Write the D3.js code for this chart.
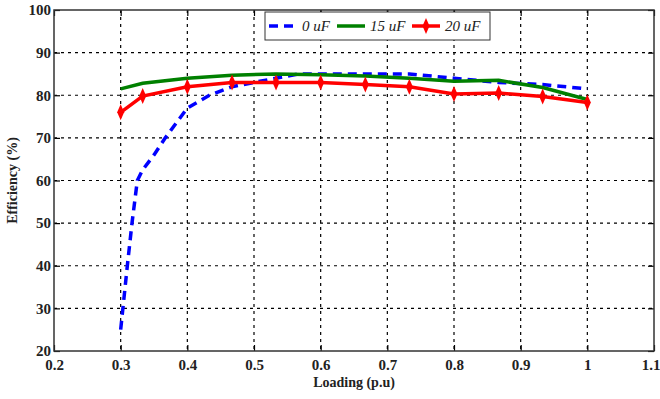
<!DOCTYPE html>
<html>
<head>
<meta charset="utf-8">
<script src="https://cdn.jsdelivr.net/npm/d3@7"></script>
<style>
  body { margin: 0; background: #fff; }
  svg { display: block; }
  .tick-label { font-family: "Liberation Serif", serif; font-weight: bold; font-size: 15px; fill: #222; }
  .axis-title { font-family: "Liberation Serif", serif; font-weight: bold; font-size: 14px; fill: #222; }
  .legend-text { font-family: "Liberation Serif", serif; font-style: italic; font-size: 15px; fill: #222; }
</style>
</head>
<body>
<div id="chart"></div>
<script>
const xTicks = [0.2, 0.3, 0.4, 0.5, 0.6, 0.7, 0.8, 0.9, 1, 1.1];
const yTicks = [20, 30, 40, 50, 60, 70, 80, 90, 100];

const loadingBlue = [0.3, 0.31, 0.317, 0.325, 0.333, 0.35, 0.367, 0.4, 0.433, 0.467, 0.5, 0.533, 0.567, 0.6, 0.667, 0.733, 0.8, 0.867, 0.933, 1.0];
const eff0uF = [25, 40, 50, 60, 62.5, 66, 70, 77, 80, 82, 83, 84, 85, 85, 85, 85, 84, 83, 82.5, 81.5];

const loading = [0.3, 0.333, 0.4, 0.467, 0.533, 0.6, 0.667, 0.733, 0.8, 0.867, 0.933, 1.0];
const eff15uF = [81.5, 82.8, 84, 84.7, 85, 84.8, 84.5, 84, 83.3, 83.5, 81.8, 79];
const eff20uF = [76, 79.8, 82, 83, 83, 83, 82.5, 82, 80.3, 80.5, 79.7, 78.3];

const seriesNames = ['0 uF', '15 uF', '20 uF'];

const WIDTH = 660;
const HEIGHT = 399;
const LEFT = 54, RIGHT = 654, TOP = 10, BOTTOM = 351;

const svg = d3.select('#chart').append('svg')
    .attr('width', WIDTH)
    .attr('height', HEIGHT);

const x = d3.scaleLinear().domain([0.2, 1.1]).range([LEFT, RIGHT]);
const y = d3.scaleLinear().domain([20, 100]).range([BOTTOM, TOP]);

// grid
svg.append('g').selectAll('line')
    .data(xTicks.slice(1, -1))
    .join('line')
    .attr('x1', d => x(d)).attr('x2', d => x(d))
    .attr('y1', TOP).attr('y2', BOTTOM)
    .attr('stroke', '#000').attr('stroke-width', 1.2)
    .attr('stroke-dasharray', '3,4');

svg.append('g').selectAll('line')
    .data(yTicks.slice(1, -1))
    .join('line')
    .attr('x1', LEFT).attr('x2', RIGHT)
    .attr('y1', d => y(d)).attr('y2', d => y(d))
    .attr('stroke', '#000').attr('stroke-width', 1.2)
    .attr('stroke-dasharray', '3,4');

// axes with inward ticks
const xAxis = svg.append('g')
    .attr('transform', `translate(0,${BOTTOM})`)
    .call(d3.axisBottom(x).tickValues(xTicks).tickSize(-6).tickFormat(d3.format('')));
const yAxis = svg.append('g')
    .attr('transform', `translate(${LEFT},0)`)
    .call(d3.axisLeft(y).tickValues(yTicks).tickSize(-6));
svg.append('g')
    .attr('transform', `translate(${RIGHT},0)`)
    .call(d3.axisRight(y).tickValues(yTicks).tickSize(-6).tickFormat(''));
svg.append('g')
    .attr('transform', `translate(0,${TOP})`)
    .call(d3.axisTop(x).tickValues(xTicks).tickSize(-6).tickFormat(''));

svg.selectAll('.domain').remove();
svg.selectAll('.tick line').attr('stroke', '#000').attr('stroke-width', 1.2);

xAxis.selectAll('text')
    .attr('class', 'tick-label')
    .attr('dy', '0.35em')
    .attr('y', 14)
    .attr('text-anchor', d => d === 1.1 ? 'end' : 'middle')
    .attr('x', d => d === 1.1 ? 6 : 0);
yAxis.selectAll('text')
    .attr('class', 'tick-label')
    .attr('x', -3);

svg.append('rect')
    .attr('x', LEFT).attr('y', TOP)
    .attr('width', RIGHT - LEFT).attr('height', BOTTOM - TOP)
    .attr('fill', 'none').attr('stroke', '#333').attr('stroke-width', 1.5);

// titles
svg.append('text')
    .attr('class', 'axis-title')
    .attr('x', (LEFT + RIGHT) / 2)
    .attr('y', 387)
    .attr('text-anchor', 'middle')
    .text('Loading (p.u)');

svg.append('text')
    .attr('class', 'axis-title')
    .attr('transform', `translate(17,${(TOP + BOTTOM) / 2}) rotate(-90)`)
    .attr('text-anchor', 'middle')
    .text('Efficiency (%)');

// lines
const line = d3.line().x(d => x(d[0])).y(d => y(d[1]));

svg.append('path')
    .datum(d3.zip(loadingBlue, eff0uF))
    .attr('d', line)
    .attr('fill', 'none').attr('stroke', '#0000ff')
    .attr('stroke-width', 3.5).attr('stroke-dasharray', '9,6');

svg.append('path')
    .datum(d3.zip(loading, eff15uF))
    .attr('d', line)
    .attr('fill', 'none').attr('stroke', '#008000')
    .attr('stroke-width', 3.5);

svg.append('path')
    .datum(d3.zip(loading, eff20uF))
    .attr('d', line)
    .attr('fill', 'none').attr('stroke', '#ff0000')
    .attr('stroke-width', 3.5);

const marker = 'M0,-8L3.5,0L0,8L-3.5,0Z';

svg.append('g').selectAll('path')
    .data(d3.zip(loading, eff20uF))
    .join('path')
    .attr('d', marker)
    .attr('transform', d => `translate(${x(d[0])},${y(d[1])})`)
    .attr('fill', '#ff0000');

// legend
const legend = svg.append('g').attr('transform', 'translate(265,12)');
legend.append('rect')
    .attr('width', 225).attr('height', 28)
    .attr('fill', '#fff').attr('stroke', '#333').attr('stroke-width', 1);

const legendItems = [
    { name: seriesNames[0], color: '#0000ff', dash: '9,6', x0: 4 },
    { name: seriesNames[1], color: '#008000', dash: null, x0: 72 },
    { name: seriesNames[2], color: '#ff0000', dash: null, x0: 147 }
];

legendItems.forEach((item, i) => {
    legend.append('line')
        .attr('x1', item.x0).attr('x2', item.x0 + 28)
        .attr('y1', 14).attr('y2', 14)
        .attr('stroke', item.color).attr('stroke-width', 3.5)
        .attr('stroke-dasharray', item.dash);
    if (i === 2) {
        legend.append('path')
            .attr('d', marker)
            .attr('transform', `translate(${item.x0 + 14},14)`)
            .attr('fill', item.color);
    }
    legend.append('text')
        .attr('class', 'legend-text')
        .attr('x', item.x0 + 33)
        .attr('y', 19)
        .text(item.name);
});
</script>
</body>
</html>
